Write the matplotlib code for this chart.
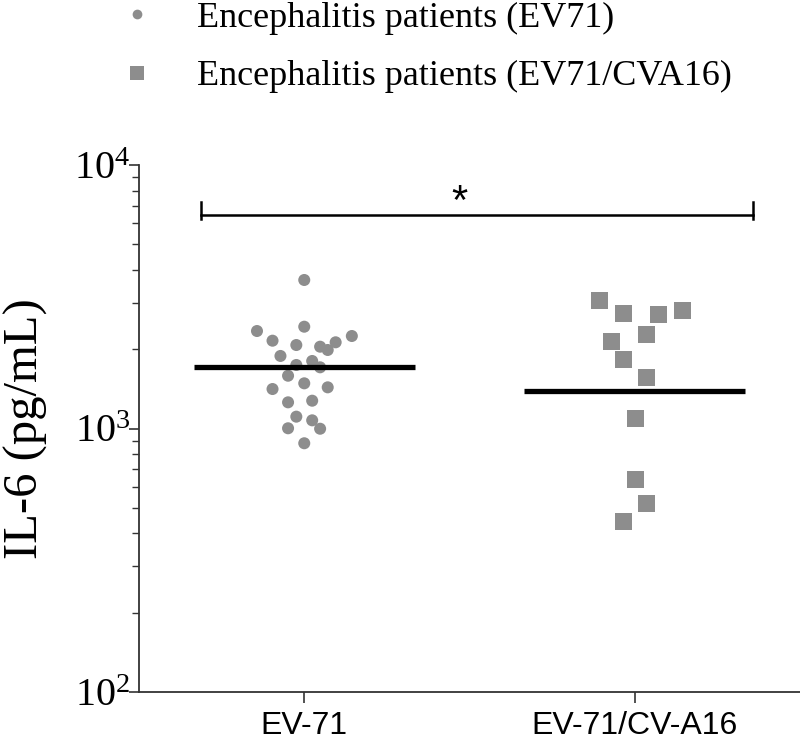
import numpy as np
import matplotlib
matplotlib.use("Agg")
import matplotlib.pyplot as plt
from matplotlib.lines import Line2D

# ---------------- data ----------------
categories = ["EV-71", "EV-71/CV-A16"]
legend_labels = ["Encephalitis patients (EV71)", "Encephalitis patients (EV71/CVA16)"]

ev71_values = [3661, 2434, 2344, 2244, 2154, 2124, 2074, 2044, 1986, 1885,
               1804, 1742, 1707, 1586, 1484, 1412, 1433, 1257, 1275, 1109,
               1074, 1002, 998, 879]
ev71_jitter = [0.0, 0.0, -0.143, 0.144, -0.096, 0.095, -0.024, 0.048, 0.071, -0.072,
               0.024, -0.024, 0.048, -0.049, 0.0, -0.096, 0.071, -0.049, 0.024, -0.024,
               0.024, -0.049, 0.048, 0.0]

coinf_values = [3055, 2736, 2703, 2816, 2278, 2142, 1825, 1564, 1087, 643, 520, 444]
coinf_jitter = [-0.107, -0.035, 0.073, 0.145, 0.037, -0.071, -0.035, 0.037, 0.001, 0.001, 0.037, -0.035]

means = [1707, 1385]
sig_bar_level = 6460
sig_label = "*"
yticks = [1e2, 1e3, 1e4]
ytick_labels = [r"$\mathregular{10^{2}}$", r"$\mathregular{10^{3}}$", r"$\mathregular{10^{4}}$"]

# ---------------- figure ----------------
W, H = 800, 747
fig = plt.figure(figsize=(W / 100, H / 100), dpi=100)
ax = fig.add_axes([139 / W, (H - 692) / H, (800 - 139) / W, (692 - 165) / H])

grey = "#8d8d8d"
x0 = np.zeros(len(ev71_values)) + np.array(ev71_jitter)
x1 = np.ones(len(coinf_values)) + np.array(coinf_jitter)
ax.scatter(x0, ev71_values, s=75, marker="o", color=grey, edgecolors="none", zorder=3)
ax.scatter(x1, coinf_values, s=150, marker="s", color=grey, edgecolors="none", zorder=3)

# mean lines
for i, m in enumerate(means):
    ax.plot([i - 0.334, i + 0.334], [m, m], color="black", lw=3.8, solid_capstyle="butt", zorder=4)

# significance bar
xl, xr = -0.313, 1.359
ax.plot([xl, xr], [sig_bar_level, sig_bar_level], color="black", lw=1.8, zorder=4)
for xx in (xl, xr):
    ax.plot([xx, xx], [sig_bar_level * 0.965, sig_bar_level * 1.12], color="black", lw=1.8, zorder=4)
ax.text(0.47, sig_bar_level * 0.93, sig_label, ha="center", va="bottom",
        fontsize=30, family="Liberation Sans", color="black")

ax.set_yscale("log")
ax.set_ylim(100, 10000)
ax.set_xlim(-0.5, 1.5)
ax.set_yticks(yticks)
ax.set_yticklabels(ytick_labels, family="Liberation Serif", fontsize=29)
ax.set_xticks([0, 1])
ax.set_xticklabels(categories, family="Liberation Sans", fontsize=23)

for s in ("top", "right"):
    ax.spines[s].set_visible(False)
for s in ("left", "bottom"):
    ax.spines[s].set_color("#333333")
    ax.spines[s].set_linewidth(1.3)
ax.tick_params(axis="y", which="major", length=7, width=1.2, color="#333333", pad=-1)
ax.tick_params(axis="y", which="minor", length=5, width=1.0, color="#333333")
ax.tick_params(axis="x", which="major", length=8, width=1.2, color="#333333", pad=6)
ax.set_ylabel("IL-6 (pg/mL)", family="Liberation Serif", fontsize=35)
ax.yaxis.set_label_coords(-0.137, 0.5)

# legend (manual, in figure pixels)
def fx(px):
    return px / W

def fy(py):
    return 1 - py / H

fig.add_artist(Line2D([fx(137)], [fy(14)], marker="o", markersize=7, color=grey,
                      markeredgewidth=0, transform=fig.transFigure))
fig.add_artist(Line2D([fx(137)], [fy(73)], marker="s", markersize=10, color=grey,
                      markeredgewidth=0, transform=fig.transFigure))
fig.text(fx(197), fy(18), legend_labels[0], family="Liberation Serif", fontsize=26,
         va="center", ha="left")
fig.text(fx(197), fy(76), legend_labels[1], family="Liberation Serif", fontsize=26,
         va="center", ha="left")

fig.savefig("out.png", dpi=100)
